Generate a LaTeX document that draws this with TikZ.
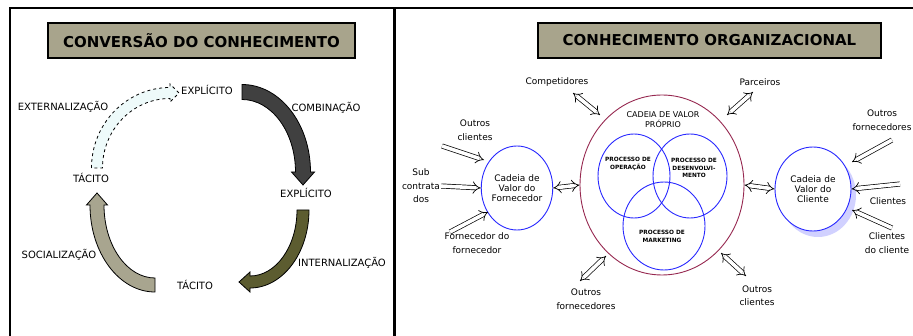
\documentclass[tikz,border=0pt]{standalone}
\usepackage{fontspec}
\setmainfont{DejaVu Sans}
\usetikzlibrary{arrows.meta, positioning, shapes.geometric}

\definecolor{titlefill}{RGB}{168,164,140}
\definecolor{darkarr}{RGB}{64,64,64}
\definecolor{olivearr}{RGB}{92,92,48}
\definecolor{beigearr}{RGB}{168,165,143}
\definecolor{palearr}{RGB}{238,250,250}
\definecolor{wine}{RGB}{150,40,80}
\definecolor{venn}{RGB}{40,40,255}

\begin{document}
\begin{tikzpicture}[x=1pt, y=-1pt,
  titlebox/.style={draw, line width=1.2pt, fill=titlefill, minimum height=35pt,
                font=\bfseries\fontsize{15}{18}\selectfont},
  stage/.style={font=\fontsize{10}{12}\selectfont, inner sep=1pt},
  lbl/.style={font=\fontsize{9}{13.5}\selectfont, align=center, inner sep=1pt},
  block/.style={draw, line width=0.8pt},
  chainbox/.style={draw=venn, line width=0.9pt, ellipse, fill=white, inner sep=0pt,
                align=center, font=\fontsize{9}{10}\selectfont},
  vc/.style={draw=venn, line width=0.9pt},
  vtxt/.style={font=\bfseries\fontsize{5.8}{7.5}\selectfont, align=center, inner sep=0pt},
  dbl/.style={double, double distance=3.6pt, line width=0.7pt, -{Implies}},
  dbl2/.style={dbl, {Implies}-{Implies}}
]
\useasboundingbox (0,0) rectangle (913,336);

% frames
\draw[line width=1.5pt] (10,336) -- (10,8) -- (913,8);
\draw[line width=3pt] (394.5,8) -- (394.5,336);

% ---- left: conversion cycle
\node[titlebox, minimum width=307pt] (conv) at (201.5,40.5) {CONVERSÃO DO CONHECIMENTO};

\draw[block, fill=palearr, dashed] (91.5,168)
  arc[start angle=180, end angle=270, x radius=78.5, y radius=80.5]
  -- (170,84) -- (179,93) -- (170,102) -- (170,98.5)
  arc[start angle=270, end angle=180, x radius=67.5, y radius=69.5] -- cycle;
\draw[block, fill=darkarr] (242,84.5)
  arc[start angle=270, end angle=360, x radius=68.5, y radius=87.5]
  -- (314.5,172) -- (303,185) -- (291.5,172) -- (295.5,172)
  arc[start angle=360, end angle=270, x radius=53.5, y radius=72.5] -- cycle;
\draw[block, fill=olivearr] (309,210)
  arc[start angle=0, end angle=90, x radius=59, y radius=78]
  -- (250,292) -- (239,282) -- (250,272) -- (250,276)
  arc[start angle=90, end angle=0, x radius=47, y radius=66] -- cycle;
\draw[block, fill=beigearr] (155,292)
  arc[start angle=90, end angle=180, x radius=65, y radius=87]
  -- (86.5,205) -- (97,193) -- (107.5,205) -- (104,205)
  arc[start angle=180, end angle=90, x radius=51, y radius=73] -- cycle;

\node[stage] (exp1) at (207,90) {EXPLÍCITO};
\node[stage] (comb) at (326,108) {COMBINAÇÃO};
\node[stage] (exp2) at (306,193) {EXPLÍCITO};
\node[stage] (intl) at (342,263) {INTERNALIZAÇÃO};
\node[stage] (tac1) at (195,285) {TÁCITO};
\node[stage] (soc) at (59,255) {SOCIALIZAÇÃO};
\node[stage] (tac2) at (91,178) {TÁCITO};
\node[stage] (extl) at (63,107) {EXTERNALIZAÇÃO};

% ---- right: organisational knowledge
\node[titlebox, minimum width=343pt] (org) at (709.5,40.5) {CONHECIMENTO ORGANIZACIONAL};

\node[draw=wine, line width=0.9pt, ellipse, minimum width=164pt, minimum height=180pt] (own) at (662,185) {};
\node[font=\fontsize{8}{9.5}\selectfont, align=center] (owntit) at (663,119.5) {CADEIA DE VALOR\\PRÓPRIO};

\draw[vc] (634,176) ellipse[x radius=36, y radius=42];
\draw[vc] (690,176) ellipse[x radius=37, y radius=42];
\draw[vc] (664,226) ellipse[x radius=41, y radius=44];
\node[vtxt] (pa) at (628,164) {PROCESSO DE\\OPERAÇÃO};
\node[vtxt] (pb) at (694,168) {PROCESSO DE\\DESENVOLVI-\\MENTO};
\node[vtxt] (pc) at (662,236.5) {PROCESSO DE\\MARKETING};

\node[chainbox, minimum width=70pt, minimum height=84pt] (cvf) at (517,188) {Cadeia de\\Valor do\\Fornecedor};
\fill[blue!18] (818,195) ellipse[x radius=38, y radius=42];
\node[chainbox, minimum width=76pt, minimum height=84pt] (cvc) at (813,189) {Cadeia de\\Valor do\\Cliente};

\node[lbl] (cmp) at (557,82) {Competidores};
\node[lbl] (par) at (760,82) {Parceiros};
\node[lbl] (ocl1) at (475,130) {Outros\\clientes};
\node[lbl] (sub) at (421,186) {Sub\\contrata\\dos};
\node[lbl] (ff) at (477,243) {Fornecedor do\\fornecedor};
\node[lbl] (ofo1) at (586,299) {Outros\\fornecedores};
\node[lbl] (ocl2) at (757,295.5) {Outros\\clientes};
\node[lbl] (ofo2) at (882,120) {Outros\\fornecedores};
\node[lbl] (cli) at (888,201) {Clientes};
\node[lbl] (cdc) at (887,243) {Clientes\\do cliente};

\coordinate (cmp-a) at (573,93);  \coordinate (cmp-b) at (600,115);
\coordinate (par-a) at (727,115); \coordinate (par-b) at (753,92);
\coordinate (ocl1-a) at (442,146); \coordinate (ocl1-b) at (484,160);
\coordinate (ff-a) at (450,232);  \coordinate (ff-b) at (488,212);
\coordinate (ofo1-a) at (580,281); \coordinate (ofo1-b) at (606,256);
\coordinate (ocl2-a) at (721,253); \coordinate (ocl2-b) at (746,276);
\coordinate (ofo2-a) at (892,140); \coordinate (ofo2-b) at (852,162);
\coordinate (cli-a) at (900,184);
\coordinate (cdc-a) at (892,228); \coordinate (cdc-b) at (852,210);

\draw[dbl2] (cmp-a) -- (cmp-b);
\draw[dbl2] (par-a) -- (par-b);
\draw[dbl] (ocl1-a) -- (ocl1-b);
\draw[dbl] (sub.east) -- (cvf.west);
\draw[dbl] (ff-a) -- (ff-b);
\draw[dbl2] (cvf.east) -- (own.west);
\draw[dbl2] (own.east) -- (cvc.west);
\draw[dbl2] (ofo1-a) -- (ofo1-b);
\draw[dbl2] (ocl2-a) -- (ocl2-b);
\draw[dbl] (ofo2-a) -- (ofo2-b);
\draw[dbl] (cli-a) -- (cvc.east);
\draw[dbl] (cdc-a) -- (cdc-b);
\end{tikzpicture}
\end{document}
